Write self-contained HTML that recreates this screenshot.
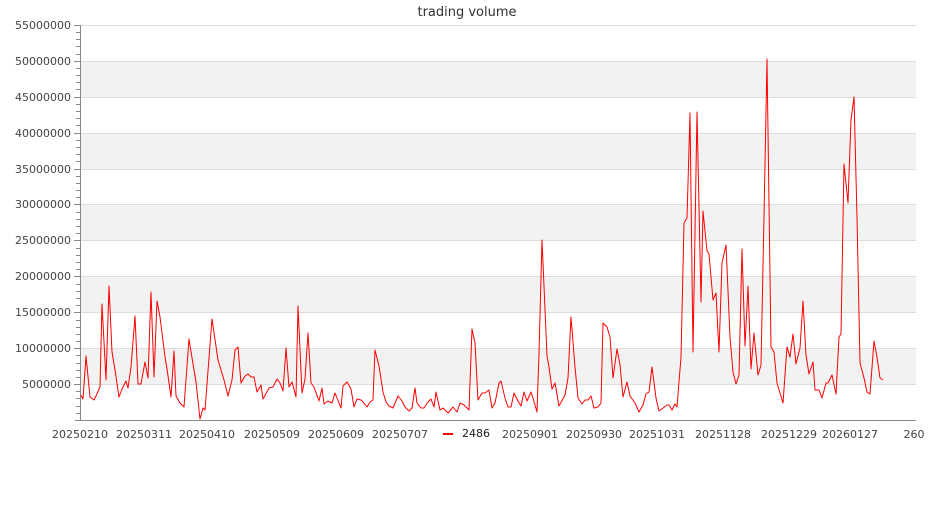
<!DOCTYPE html>
<html><head><meta charset="utf-8"><style>
html,body{margin:0;padding:0;background:#fff;}
svg text{font-family:"DejaVu Sans","Liberation Sans",sans-serif;}
</style></head><body>
<svg width="935" height="500" viewBox="0 0 935 500" xmlns="http://www.w3.org/2000/svg">
<rect width="935" height="500" fill="#fff"/>
<text x="467" y="16" font-size="13" fill="#333" text-anchor="middle">trading volume</text>
<g fill="#f2f2f2">
<rect x="80" y="61" width="836" height="36"/>
<rect x="80" y="133" width="836" height="36"/>
<rect x="80" y="205" width="836" height="36"/>
<rect x="80" y="276" width="836" height="36"/>
<rect x="80" y="348" width="836" height="36"/>
</g>
<g stroke="#ddd" stroke-width="1">
<line x1="80" y1="25.5" x2="916" y2="25.5"/><line x1="80" y1="61.5" x2="916" y2="61.5"/>
<line x1="80" y1="97.5" x2="916" y2="97.5"/><line x1="80" y1="133.5" x2="916" y2="133.5"/>
<line x1="80" y1="169.5" x2="916" y2="169.5"/><line x1="80" y1="204.5" x2="916" y2="204.5"/>
<line x1="80" y1="240.5" x2="916" y2="240.5"/><line x1="80" y1="276.5" x2="916" y2="276.5"/>
<line x1="80" y1="312.5" x2="916" y2="312.5"/><line x1="80" y1="348.5" x2="916" y2="348.5"/>
<line x1="80" y1="384.5" x2="916" y2="384.5"/>
</g>
<path stroke="#888" stroke-width="1" fill="none" d="M74 25.5H80M76 32.5H80M76 39.5H80M76 46.5H80M76 54.5H80M74 61.5H80M76 68.5H80M76 75.5H80M76 82.5H80M76 89.5H80M74 97.5H80M76 104.5H80M76 111.5H80M76 118.5H80M76 125.5H80M74 133.5H80M76 140.5H80M76 147.5H80M76 154.5H80M76 161.5H80M74 169.5H80M76 176.5H80M76 183.5H80M76 190.5H80M76 197.5H80M74 204.5H80M76 212.5H80M76 219.5H80M76 226.5H80M76 233.5H80M74 240.5H80M76 248.5H80M76 255.5H80M76 262.5H80M76 269.5H80M74 276.5H80M76 284.5H80M76 291.5H80M76 298.5H80M76 305.5H80M74 312.5H80M76 320.5H80M76 327.5H80M76 334.5H80M76 341.5H80M74 348.5H80M76 355.5H80M76 363.5H80M76 370.5H80M76 377.5H80M74 384.5H80M76 391.5H80M76 398.5H80M76 406.5H80M76 413.5H80"/>
<line x1="80.5" y1="25" x2="80.5" y2="421" stroke="#888"/>
<line x1="75" y1="420.5" x2="916" y2="420.5" stroke="#888"/>
<g font-size="11" fill="#444" text-anchor="end">
<text x="71" y="29">55000000</text><text x="71" y="65">50000000</text><text x="71" y="101">45000000</text>
<text x="71" y="137">40000000</text><text x="71" y="173">35000000</text><text x="71" y="208">30000000</text>
<text x="71" y="244">25000000</text><text x="71" y="280">20000000</text><text x="71" y="316">15000000</text>
<text x="71" y="352">10000000</text><text x="71" y="388">5000000</text>
</g>
<g font-size="11" fill="#444" text-anchor="middle">
<text x="80" y="438">20250210</text><text x="144" y="438">20250311</text><text x="207" y="438">20250410</text>
<text x="272" y="438">20250509</text><text x="336" y="438">20250609</text><text x="400" y="438">20250707</text>
<text x="530" y="438">20250901</text><text x="594" y="438">20250930</text><text x="657" y="438">20251031</text>
<text x="723" y="438">20251128</text><text x="789" y="438">20251229</text><text x="850" y="438">20260127</text>
<text x="914" y="438">260</text>
</g>
<rect x="436" y="426" width="60" height="16" fill="#fff"/>
<line x1="443" y1="434" x2="453" y2="434" stroke="#f00" stroke-width="2"/>
<text x="462" y="437" font-size="11" fill="#222">2486</text>
<polyline fill="none" stroke="#f00" stroke-width="1" stroke-linejoin="round" points="
80.7,395 83,399 86,356 90,397 94,400 96,396 100,387 102,304 106,380 109,286 112,352 115,370 119,397 122,389 126,381 128,388 131,367 135,316 138,384 141,384 145,362 148,378 151,292 154,377 157,301 160,317 165,357 167,369 171,397 174,351 176,396 180,403 184,407 189,339 193,364 196,382 200,419 203,408 205,410 212,319 218,360 224,380 228,396 232,380 235,350 238,347 241,383 245,376 248,374 251,377 254,377 257,392 261,385 263,399 269,388 273,387 277,379 280,383 283,391 286,348 289,387 292,382 296,397 298,306 302,393 305,379 308,333
311,383 314,387 319,401 322,388 324,404 328,401 332,403 335,393 341,408 343,386 347,382 351,389 354,407 357,399 361,400 363,402 367,407 370,402 373,400 375,350 379,366 383,392 386,402 389,406 393,408 398,396 402,401 405,407 409,411 412,408 415,388 417,403 421,408 424,408 428,402 431,399 434,407 436,392 440,410 443,408 448,413 453,407 457,412 460,403 464,405 469,410 472,329 475,343 478,400 482,393 485,393 489,390 492,408 495,403 499,383 501,381 505,398 508,407 511,407 514,393 518,401 521,406 524,392 527,401 531,392 533,398 537,412 539,353 542,240 547,356 549,367 552,389 555,383 559,406
565,395 568,378 571,317 575,367 578,398 582,404 585,400 588,400 591,396 594,408 598,407 601,403 603,323 607,327 610,337 613,378 617,349 620,365 623,397 627,382 630,396 635,403 639,412 643,405 646,394 649,392 652,367 656,398 659,411 663,408 667,405 669,405 672,410 675,404 677,407 681,357 684,223 687,218 690,113 693,352 697,112 701,302 703,211 707,251 709,254 713,300 716,293 719,352 722,263 726,245 730,337 733,372 736,384 739,375 742,249 745,346 748,286
751,369 754,333 758,375 761,365 764,217 767,59 771,347 774,352 777,383 783,403 787,347 790,357 793,334 796,364 800,348 803,301 806,355 809,374 813,362 815,390 819,390 822,398 826,383 828,383 832,375 836,394 839,337 841,334 844,164 848,203 851,120 854,97 857,217 860,363 864,378 867,392 870,394 874,341 877,357 880,378 883,380"/>
</svg>
</body></html>
